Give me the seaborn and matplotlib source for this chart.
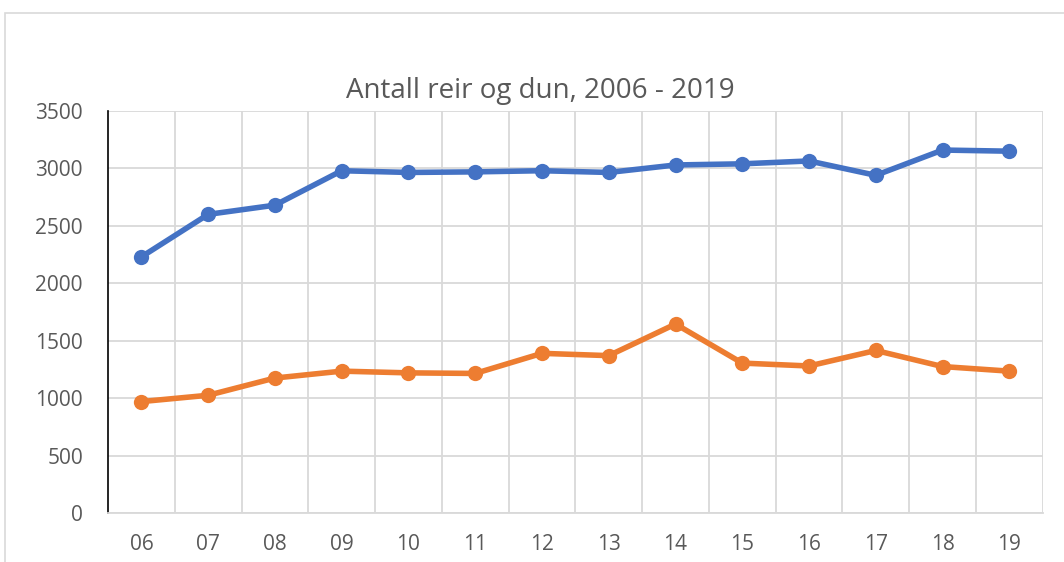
import pandas as pd
import seaborn as sns
import matplotlib.pyplot as plt
from matplotlib.patches import Rectangle

years = ["06", "07", "08", "09", "10", "11", "12", "13", "14", "15", "16", "17", "18", "19"]
reir = [2230, 2600, 2680, 2980, 2965, 2970, 2980, 2965, 3030, 3040, 3065, 2940, 3160, 3150]
dun = [970, 1025, 1175, 1235, 1220, 1215, 1390, 1370, 1645, 1305, 1280, 1415, 1275, 1235]

df = pd.DataFrame({
    "pos": list(range(len(years))) * 2,
    "verdi": reir + dun,
    "serie": ["reir"] * len(years) + ["dun"] * len(years),
})

sns.set_style("white")
plt.rcParams["font.family"] = ["Open Sans", "DejaVu Sans"]

fig = plt.figure(figsize=(10.64, 5.62), dpi=100)
ax = fig.add_axes([0.1015, 0.0872, 0.8785, 0.7153])

# chart area frame
fig.patches.append(Rectangle((5 / 1064, -0.1), 1.2, 1 - 13 / 562 + 0.1, transform=fig.transFigure,
                             fill=False, edgecolor="#D9D9D9", linewidth=1.2))

sns.lineplot(data=df, x="pos", y="verdi", hue="serie", palette={"reir": "#4472C4", "dun": "#ED7D31"},
             marker="o", markersize=11, markeredgewidth=0, linewidth=4, legend=False, ax=ax,
             zorder=3)

ax.set_xlim(-0.5, len(years) - 0.5)
ax.set_ylim(0, 3500)
ax.set_yticks(range(0, 3501, 500))
ax.set_xticks(range(len(years)))
ax.set_xticklabels(years)
ax.set_xticks([i + 0.5 for i in range(len(years))], minor=True)
ax.grid(False)
ax.grid(True, axis="y", which="major", color="#D9D9D9", linewidth=1.3)
ax.grid(True, axis="x", which="minor", color="#D9D9D9", linewidth=1.3)
ax.set_axisbelow(True)

ax.tick_params(axis="both", which="both", length=0, labelsize=15, colors="#595959")
ax.tick_params(axis="x", pad=15)
ax.tick_params(axis="y", pad=18)

ax.spines["top"].set_visible(False)
ax.spines["right"].set_visible(False)
ax.spines["left"].set_color("#000000")
ax.spines["left"].set_linewidth(1.2)
ax.spines["bottom"].set_color("#D9D9D9")
ax.spines["bottom"].set_linewidth(1.3)

ax.set_xlabel("")
ax.set_ylabel("")
fig.text(540 / 1064, 1 - 91 / 562, "Antall reir og dun, 2006 - 2019", fontsize=20, color="#595959",
         ha="center", va="center")

plt.savefig("out.png", dpi=100)
